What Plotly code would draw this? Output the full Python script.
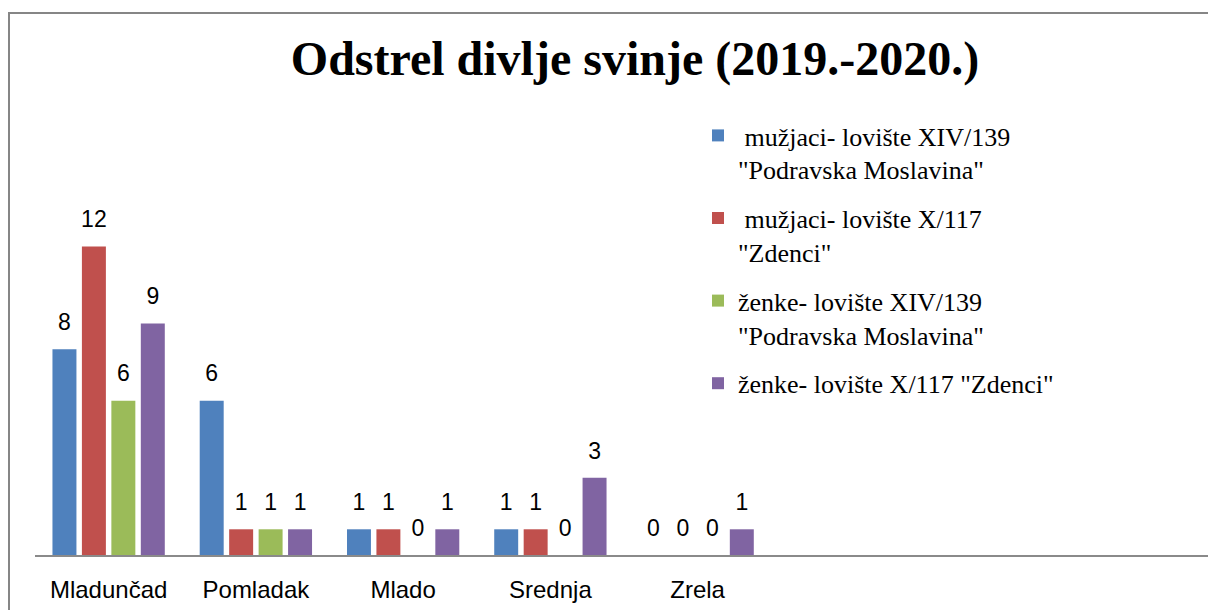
import plotly.graph_objects as go

categories = ["Mladunčad", "Pomladak", "Mlado", "Srednja", "Zrela"]
series_names = [
    " mužjaci- lovište XIV/139<br>\"Podravska Moslavina\"",
    " mužjaci- lovište X/117<br>\"Zdenci\"",
    "ženke- lovište XIV/139<br>\"Podravska Moslavina\"",
    "ženke- lovište X/117 \"Zdenci\"",
]
muzjaci_xiv = [8, 6, 1, 1, 0]
muzjaci_x = [12, 1, 1, 1, 0]
zenke_xiv = [6, 1, 0, 0, 0]
zenke_x = [9, 1, 1, 3, 1]
series_values = [muzjaci_xiv, muzjaci_x, zenke_xiv, zenke_x]
colors = ["#4F81BD", "#C0504D", "#9BBB59", "#8064A2"]

W, H = 1208, 610
ML, MR, MT, MB = 35, 0, 195, 55
PW, PH = W - ML - MR, H - MT - MB

fig = go.Figure()
for name, vals, col in zip(series_names, series_values, colors):
    fig.add_trace(go.Bar(
        x=categories, y=vals, name=name,
        marker=dict(color=col, line=dict(width=0)),
        legendgroup=name,
    ))
for name, vals in zip(series_names, series_values):
    fig.add_trace(go.Scatter(
        x=categories, y=vals, mode="markers+text",
        text=[str(v) for v in vals], textposition="top center",
        marker=dict(size=20, opacity=0),
        textfont=dict(family="Liberation Sans, Arial", size=23, color="#000000"),
        showlegend=False, hoverinfo="skip", cliponaxis=False,
    ))

def px_x(p):
    return (p - ML) / PW

def px_y(p):
    return (H - MB - p) / PH

border_path = "M {x0},{yb} L {x0},{yt} L {x1},{yt}".format(
    x0=px_x(9), yb=px_y(615), yt=px_y(13), x1=px_x(1215))

fig.update_layout(
    width=W, height=H,
    margin=dict(l=ML, r=MR, t=MT, b=MB),
    paper_bgcolor="white", plot_bgcolor="white",
    barmode="group", bargap=0.2, bargroupgap=0.186,
    scattermode="group", scattergap=0.2,
    title=dict(
        text="<b>Odstrel divlje svinje (2019.-2020.)</b>",
        font=dict(family="Liberation Serif, Times New Roman", size=48, color="#000000"),
        x=635 / W, xref="container", xanchor="center",
        y=1 - 58 / H, yref="container", yanchor="middle",
    ),
    xaxis=dict(
        type="category", range=[-0.5, 7.466],
        showline=True, linecolor="#8a8a8a", linewidth=2,
        showgrid=False, zeroline=False, ticks="",
        ticklabelstandoff=12,
        tickfont=dict(family="Liberation Sans, Arial", size=24, color="#000000"),
    ),
    yaxis=dict(range=[0, 14], visible=False, showgrid=False, zeroline=False),
    legend=dict(
        x=px_x(698), y=px_y(112), xanchor="left", yanchor="top",
        font=dict(family="Liberation Serif, Times New Roman", size=26, color="#000000"),
        valign="top", tracegroupgap=12, traceorder="grouped",
        bgcolor="rgba(0,0,0,0)",
    ),
    shapes=[dict(type="path", xref="paper", yref="paper", path=border_path,
                 line=dict(color="#868686", width=2))],
    showlegend=True,
)

fig.write_html("out.html", config={"displayModeBar": False},
               post_script="document.body.style.margin='0px';")
